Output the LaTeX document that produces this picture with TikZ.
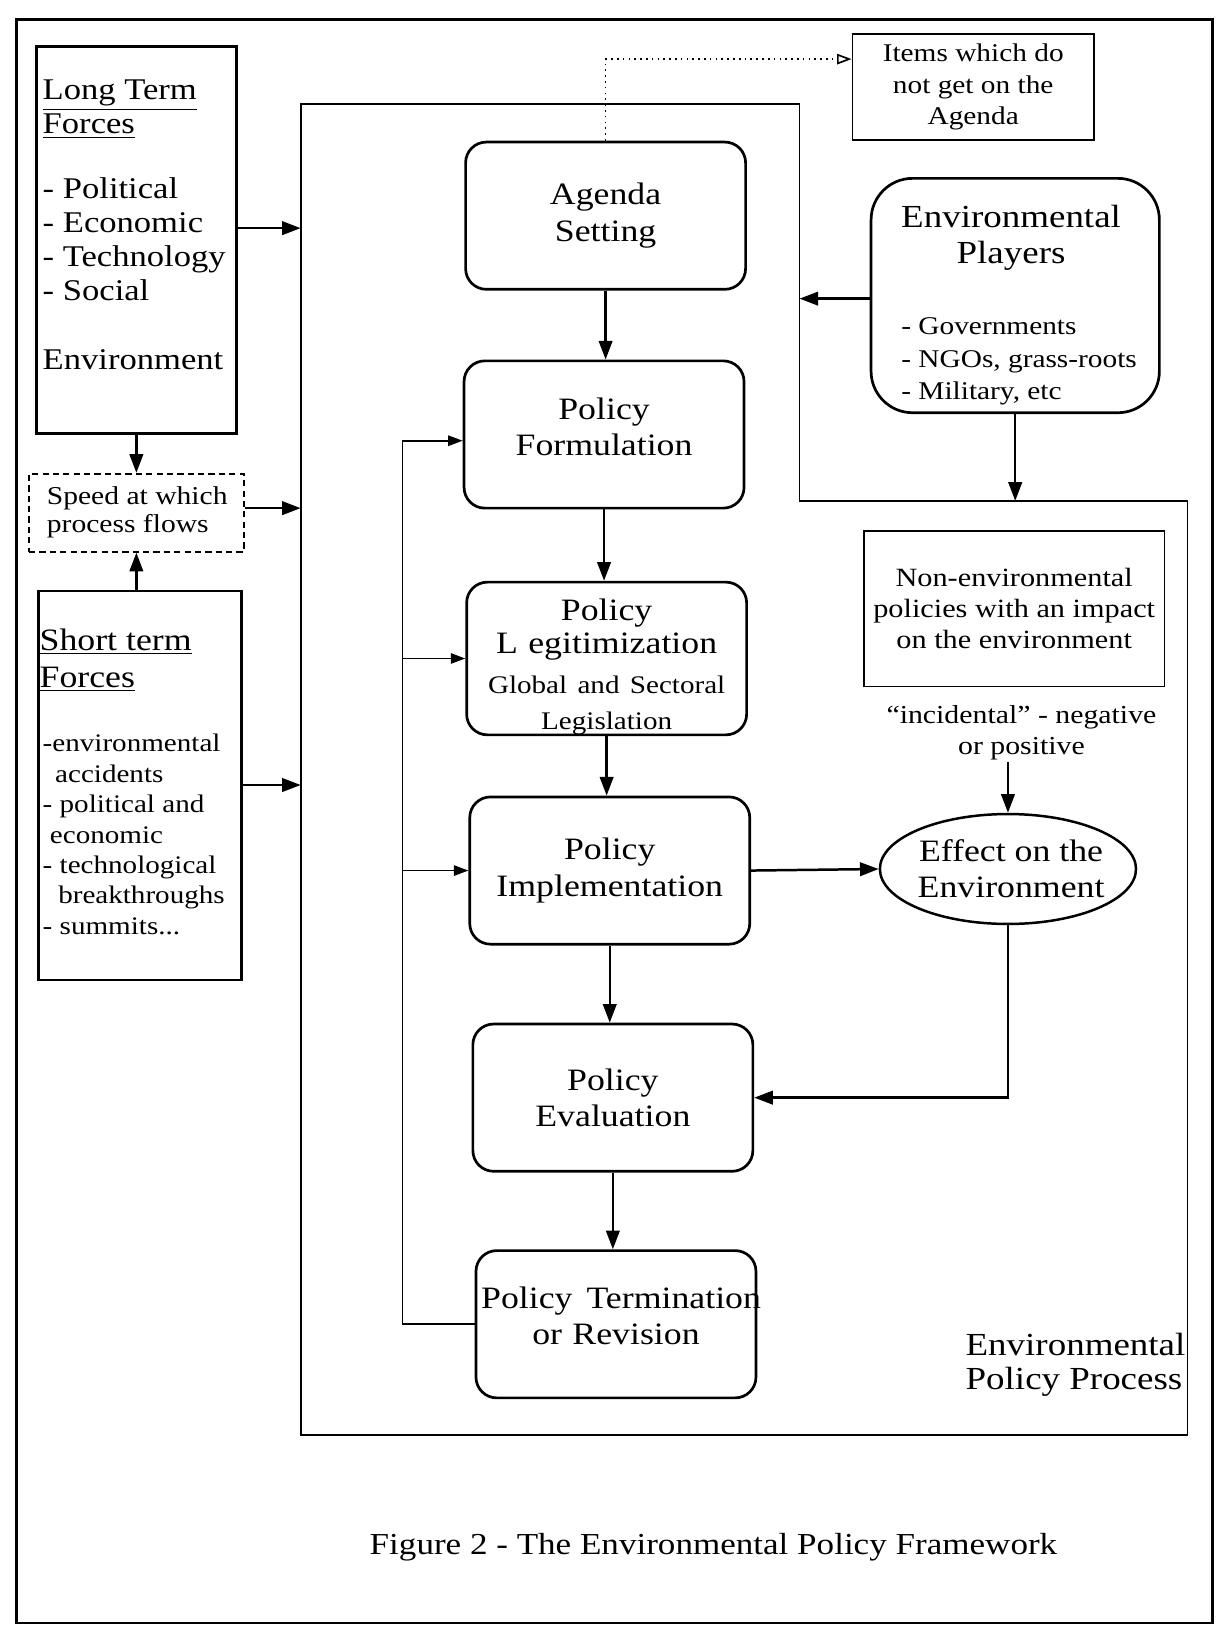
\documentclass[tikz,border=0pt]{standalone}
\usepackage{fontspec}
\setmainfont{Liberation Serif}[FakeStretch=1.15]
\usetikzlibrary{arrows.meta,shapes.geometric}

\newcommand{\stagefont}{\fontsize{15}{17.5}\selectfont}

\tikzset{every picture/.style={line width=1.2pt}}

\begin{document}
\begin{tikzpicture}[x=0.5pt,y=0.5pt,yscale=-1,xscale=1,
  stagebox/.style={draw, line width=1.3pt, rounded corners=10pt, text width=130pt, inner xsep=2.5pt, inner ysep=0pt, minimum width=135pt, minimum height=71pt, align=center, font=\stagefont},
  forcebox/.style={draw, inner sep=0pt},
  notebox/.style={draw, line width=0.8pt, align=center, inner sep=0pt},
  plaintext/.style={inner sep=0pt, align=left},
  arr/.style={-{Triangle[length=9pt,width=6.5pt]}},
  thinline/.style={line width=0.8pt},
  thinarr/.style={line width=0.8pt, -{Triangle[length=7pt,width=5pt]}}]
	\useasboundingbox (0,0) rectangle (1172,1568);

	%Shape: Rectangle [outer frame]
	\draw [line width=1.3pt] (16,19) rectangle (1169,1565);
	%Shape: Polygon [process frame]
	\draw [thinline] (290,100) -- (771,100) -- (771,483) -- (1145,483) -- (1145,1384) -- (290,1384) -- cycle;
	\coordinate (fa) at (290,220);
	\coordinate (fb) at (290,490);
	\coordinate (fc) at (290,757);
	\coordinate (fd) at (771,288);
	\coordinate (fe) at (978,483);

	%Shape: Rectangle [long term forces]
	\node [forcebox, minimum width=96.5pt, minimum height=186.5pt] (ltf) at (131.5,231.5) {};
	% Text Node
	\node [plaintext, anchor=north west, font=\fontsize{14.5}{16.5}\selectfont] (ltft) at (40,76) {\underline{Long Term}\\\underline{Forces}\\[14.5pt]- Political\\- Economic\\- Technology\\- Social\\[16.5pt]Environment};

	%Shape: Rectangle [speed]
	\node [forcebox, densely dashed, line width=1pt, minimum width=103.5pt, minimum height=37.5pt] (spd) at (131.5,494.5) {};
	% Text Node
	\node [plaintext, anchor=west, font=\fontsize{12.4}{13.5}\selectfont] (spdt) at (44,494.5) {Speed at which\\process flows};

	%Shape: Rectangle [short term forces]
	\node [forcebox, minimum width=98pt, minimum height=187.5pt] (stf) at (135,757.5) {};
	% Text Node
	\node [plaintext, anchor=north west, font=\fontsize{15}{18}\selectfont] (stfh) at (37,605) {\underline{Short term}\\\underline{Forces}};
	% Text Node
	\node [plaintext, anchor=north west, font=\fontsize{12.2}{14.65}\selectfont] (stfi) at (40,707) {-environmental\\\hspace*{6pt}accidents\\- political and\\\hspace*{3.5pt}economic\\- technological\\\hspace*{7.5pt}breakthroughs\\- summits...};

	\draw [arr] (ltf.south) -- (spd.north);
	\draw [arr] (spd.south |- stf.north) -- (spd.south);
	\draw [arr] (ltf.east |- fa) -- (fa);
	\draw [arr] (spd.east |- fb) -- (fb);
	\draw [arr] (stf.east |- fc) -- (fc);

	%Shape: Rounded Rect [stages]
	\node [stagebox] (agset) at (584,208) {Agenda\\Setting};
	\node [stagebox] (pform) at (582.5,419) {Policy\\Formulation\\[-10pt]\mbox{}};
	\node [stagebox] (plegit) at (585,635) {\fontsize{15}{16}\selectfont\mbox{}\\[2.5pt]Policy\\L egitimization\\[4pt]\fontsize{12.2}{15}\selectfont Global and Sectoral\\Legislation};
	\node [stagebox] (pimp) at (588,839.5) {Policy\\Implementation};
	\node [stagebox] (peval) at (591,1058.5) {Policy\\Evaluation};
	\node [stagebox] (pterm) at (594,1277) {\mbox{Policy\hspace{0.45em}Termination}\\or Revision\\[-9pt]\mbox{}};

	\draw [arr] (agset.south) -- (agset.south |- pform.north);
	\draw [arr] (pform.south) -- (pform.south |- plegit.north);
	\draw [arr] (plegit.south) -- (plegit.south |- pimp.north);
	\draw [arr] (pimp.south) -- (pimp.south |- peval.north);
	\draw [arr] (peval.south) -- (peval.south |- pterm.north);

	% feedback loop
	\coordinate (lp) at (388,425);
	\draw [thinarr] (pterm.west) -| (lp) -- (lp -| pform.west);
	\draw [thinarr] (lp |- plegit.west) -- (plegit.west);
	\draw [thinarr] (lp |- pimp.west) -- (pimp.west);

	%Shape: Rectangle [items off the agenda]
	\node [notebox, minimum width=116.5pt, minimum height=51pt, font=\fontsize{12.3}{15.25}\selectfont] (itm) at (938.5,84) {Items which do\\not get on the\\Agenda};
	\draw [dotted, line width=0.8pt, -{Triangle[open,length=7pt,width=5pt]}] (agset.north) |- ([yshift=-13.5pt]itm.west);

	%Shape: Rounded Rect [players]
	\node [draw, line width=1.3pt, rounded corners=20pt, minimum width=139pt, minimum height=113pt, inner sep=0pt] (envp) at (979,285) {};
	% Text Node
	\node [inner sep=0pt, align=center, font=\fontsize{15.5}{17.5}\selectfont] (envpt) at (975,229) {Environmental\\Players};
	% Text Node
	\node [plaintext, anchor=north west, font=\fontsize{12.3}{15.75}\selectfont] (envpi) at (868,305) {- Governments\\- NGOs, grass-roots\\- Military, etc};
	\draw [arr] (envp.west |- fd) -- (fd);
	\draw [arr] (envp.south) -- (envp.south |- fe);

	%Shape: Rectangle [non-environmental policies]
	\node [notebox, minimum width=145pt, minimum height=75pt, font=\fontsize{12.7}{15}\selectfont] (nep) at (978,587) {Non-environmental\\policies with an impact\\on the environment};
	% Text Node
	\node [inner sep=0pt, align=center, font=\fontsize{12.5}{15}\selectfont] (inc) at (985,707) {“incidental” - negative\\or positive};

	%Shape: Ellipse [effect]
	\node [draw, ellipse, minimum width=123.5pt, minimum height=53pt, inner sep=0pt] (eff) at (972,838) {};
	% Text Node
	\node [inner sep=0pt, align=center, font=\stagefont] (efft) at (975,838) {Effect on the\\Environment};
	\draw [arr] (inc.south -| eff.north) -- (eff.north);
	\draw [arr] (pimp.east) -- (eff.west);
	\draw [arr] (eff.south) |- (peval.east);

	% Text Node
	\node [plaintext, anchor=west, font=\fontsize{15.5}{16.5}\selectfont] (epp) at (930,1316) {Environmental\\Policy Process};
	% Text Node
	\node [inner sep=0pt, font=\fontsize{14.7}{17}\selectfont] (cap) at (688,1492) {Figure 2 - The Environmental Policy Framework};

\end{tikzpicture}
\end{document}
